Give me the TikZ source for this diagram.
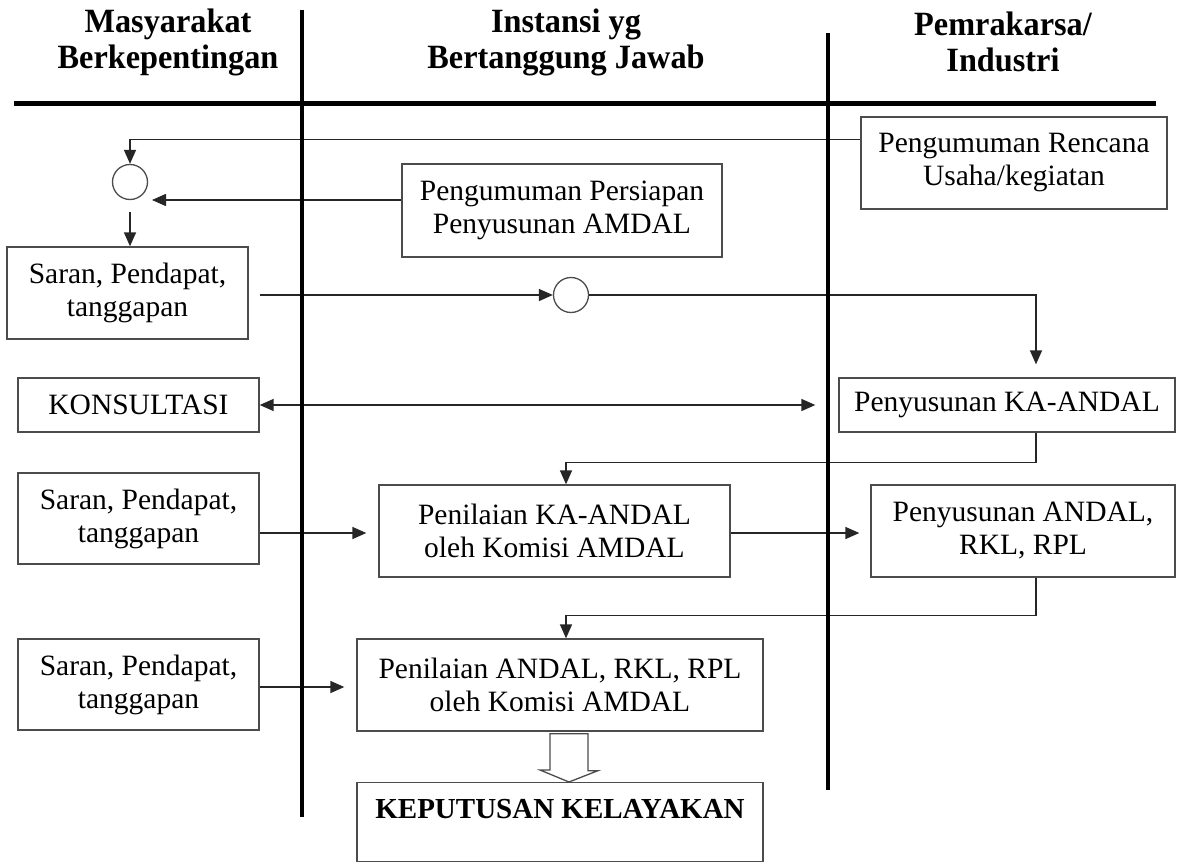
\documentclass[tikz,border=0pt]{standalone}
\usepackage{fontspec}
\setmainfont{Liberation Serif}
\newfontfamily\hdrfont[FakeStretch=0.95]{Liberation Serif}
\usetikzlibrary{arrows.meta,calc}
\begin{document}
\begin{tikzpicture}[x=1pt,y=-1pt,
  box/.style={draw=black!70,line width=1.3pt,rectangle,inner sep=0pt,align=center,font=\fontsize{29.5}{33}\selectfont},
  conn/.style={draw=black!85,line width=1.5pt,-{Triangle[length=14pt,width=12pt]}},
  dconn/.style={draw=black!85,line width=1.5pt,{Triangle[length=14pt,width=12pt]}-{Triangle[length=14pt,width=12pt]}},
  lane/.style={line width=4pt,black},
  hdr/.style={align=center,font=\hdrfont\bfseries\fontsize{34}{36}\selectfont},
  circ/.style={draw=black!70,line width=1.3pt,circle,minimum size=35pt,inner sep=0pt},
  blockarrow/.style={draw=black!70,line width=1.3pt,fill=white,line join=miter}]
\useasboundingbox (0,0) rectangle (1183,864);

% headers
\node[hdr] (h1) at (168,42) {Masyarakat\\Berkepentingan};
\node[hdr] (h2) at (566,42) {Instansi yg\\Bertanggung Jawab};
\node[hdr] (h3) at (1003,42) {Pemrakarsa/\\Industri};

% boxes
\node[box,minimum width=306pt,minimum height=92pt] (rencana) at (1014,163) {Pengumuman Rencana\\Usaha/kegiatan};
\node[box,minimum width=320pt,minimum height=93pt] (persiapan) at (562,210.5) {Pengumuman Persiapan\\Penyusunan AMDAL};
\node[box,minimum width=241pt,minimum height=92pt] (saran1) at (127.5,293) {Saran, Pendapat,\\tanggapan};
\node[box,minimum width=241pt,minimum height=54pt] (konsul) at (138.5,405) {KONSULTASI};
\node[box,minimum width=336pt,minimum height=54pt] (kaandal) at (1007,405) {Penyusunan KA-ANDAL};
\node[box,minimum width=241pt,minimum height=91pt] (saran2) at (138.5,518.5) {Saran, Pendapat,\\tanggapan};
\node[box,minimum width=351pt,minimum height=92pt] (penka) at (554.5,531) {Penilaian KA-ANDAL\\oleh Komisi AMDAL};
\node[box,minimum width=304pt,minimum height=92pt] (andal) at (1023,531) {Penyusunan ANDAL,\\RKL, RPL};
\node[box,minimum width=241pt,minimum height=91pt] (saran3) at (138.5,684.5) {Saran, Pendapat,\\tanggapan};
\node[box,minimum width=406pt,minimum height=92pt] (penandal) at (560,685) {Penilaian ANDAL, RKL, RPL\\oleh Komisi AMDAL};
\node[box,minimum width=406pt,anchor=north,text height=36pt,text depth=43pt,font=\bfseries\fontsize{29}{33}\selectfont] (kep) at (560,782) {KEPUTUSAN KELAYAKAN};

% junction circles
\node[circ] (c1) at (130,182) {};
\node[circ] (c2) at (571,295) {};

% helper coordinates
\coordinate (kx) at (1036,0);
\coordinate (mx) at (566,0);
\coordinate (ha) at (569,0);
\coordinate (r0) at (0,200);
\coordinate (r2) at (0,533);
\coordinate (r3) at (0,687);
\coordinate (c1in) at (152,200);

% connectors
\draw[conn] ($(rencana.north west)+(0,23)$) -| (c1.north);
\draw[conn] (persiapan.west |- r0) -- (c1in);
\draw[conn,shorten <=12pt] (c1.south) -- (c1.south |- saran1.north);
\draw[conn,shorten <=11pt] (saran1.east |- c2.west) -- (c2.west);
\draw[conn,shorten >=13pt] (c2.east) -| (kx |- kaandal.north);
\draw[dconn,shorten >=23pt] (konsul.east) -- (kaandal.west);
\draw[conn] (kx |- kaandal.south) -- ++(0,30) -| (mx |- penka.north);
\draw[conn,shorten >=12pt] (saran2.east |- r2) -- (penka.west |- r2);
\draw[conn,shorten >=11pt] (penka.east |- r2) -- (andal.west |- r2);
\draw[conn] (kx |- andal.south) -- ++(0,38) -| (mx |- penandal.north);
\draw[conn,shorten >=12pt] (saran3.east |- r3) -- (penandal.west |- r3);

% hollow block arrow
\draw[blockarrow] ($(ha |- penandal.south)+(-19,2)$) -- ++(38,0) -- ++(0,37) -- ++(10,0) -- (ha |- kep.north) -- ++(-29,-12) -- ++(10,0) -- cycle;

% lanes
\draw[lane] (302,10) -- (302,817);
\draw[lane] (828,33) -- (828,790);
\draw[line width=5pt] (14,104) -- (1156,104);
\end{tikzpicture}
\end{document}
